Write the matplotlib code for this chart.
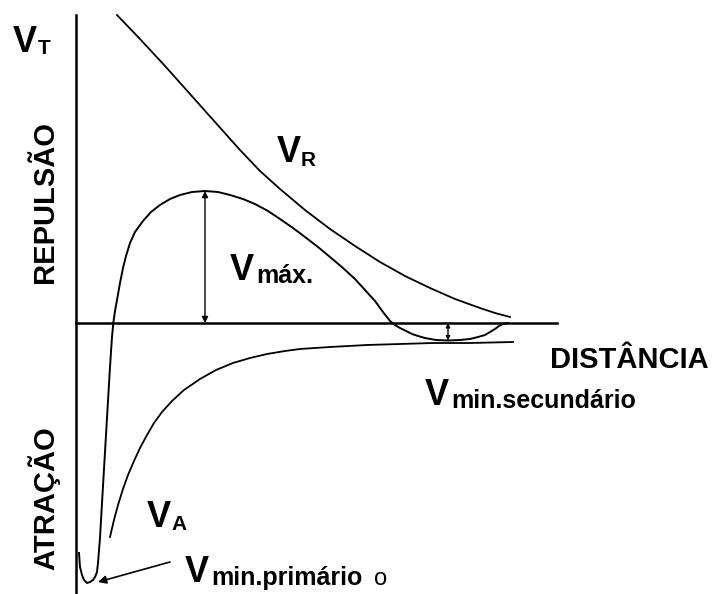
import matplotlib.pyplot as plt

plt.rcParams['font.family'] = ['Liberation Sans', 'DejaVu Sans']

# distance (x) and energy (height above the zero line)
vr_x = [117, 140, 165, 190, 215, 240, 260, 280, 305, 330, 355, 380, 405,
        430, 455, 480, 495, 510]
vr_y = [308, 284, 257, 229, 201, 173, 152, 134, 113, 94, 77, 61, 47, 35,
        24, 15, 10, 6]

va_x = [110, 114, 118, 123, 128, 134, 140, 147, 154, 162, 172, 184, 200,
        216, 233, 250, 267, 285, 300, 330, 367, 400, 433, 470, 513]
va_y = [-214, -197, -182, -166, -152, -138, -125, -112, -100, -89, -78,
        -67, -56, -47, -40, -35, -31, -28, -26, -24, -22, -21, -20, -20, -19]

vt_x = [79, 80, 82, 84, 87, 90, 93, 95, 97, 98, 100, 102, 104, 106, 108,
        110, 112, 113.3, 115, 117, 120, 123, 126, 130, 135, 143, 151, 160,
        170, 180, 192, 205, 218, 230, 243, 255, 268, 280, 293, 305, 318,
        330, 343, 355, 365, 375, 383, 390, 395, 400, 406, 412, 418, 425,
        436, 448, 460, 470, 478, 485, 490, 495, 499, 503, 508]
vt_y = [-230, -244, -252, -257, -260, -259, -257, -254, -249, -240, -215,
        -180, -146, -112, -78, -44, -14, 0, 12, 23, 40, 55, 67, 80, 91, 102,
        111, 118, 124, 128, 131, 132, 131, 128, 124, 119, 112, 104, 95, 86,
        76, 66, 55, 44, 33, 22, 11, 2, -2, -5, -8, -11, -13, -15, -17, -17.5,
        -17, -16, -14, -12, -9, -6, -3, -1, 0]

# barrier height and the two minima
x_max, v_max = 205, 132
x_sec, v_sec = 448, -17.5
x_prim, v_prim = 87, -260

fig = plt.figure(figsize=(7.12, 5.94), dpi=100)
ax = fig.add_axes([0, 0, 1, 1])
ax.set_xlim(0, 712)
ax.set_ylim(-271, 323)
ax.axis('off')

# axes of the diagram
ax.plot([76, 76], [308, -271], color='black', lw=1.8)
ax.plot([76, 557], [0, 0], color='black', lw=1.8)

ax.plot(vr_x, vr_y, color='black', lw=1.3)
ax.plot(va_x, va_y, color='black', lw=1.3)
ax.plot(vt_x, vt_y, color='black', lw=1.4, solid_joinstyle='round')

arr = dict(arrowstyle='<|-|>', color='black', lw=1.0, mutation_scale=9,
           shrinkA=0, shrinkB=0)
ax.annotate('', xy=(x_max, v_max), xytext=(x_max, 0), arrowprops=arr)
ax.annotate('', xy=(x_sec, v_sec), xytext=(x_sec, 0),
            arrowprops=dict(arr, mutation_scale=6))
ax.annotate('', xy=(x_prim + 11, v_prim + 1), xytext=(170, -239),
            arrowprops=dict(arrowstyle='-|>', color='black', lw=1.2,
                            mutation_scale=12, shrinkA=0, shrinkB=0))

big = dict(fontsize=26, fontweight='bold', va='baseline', ha='left')
sub_up = dict(fontsize=15, fontweight='bold', va='baseline', ha='left')
sub_lo = dict(fontsize=18, fontweight='bold', va='baseline', ha='left')

ax.text(13, 271, 'V', **big)
ax.text(38, 269, 'T', **sub_up)

ax.text(277, 161, 'V', **big)
ax.text(301, 157, 'R', **sub_up)

ax.text(230, 43, 'V', **big)
ax.text(256, 40, 'máx.', **sub_lo)

ax.text(147, -204, 'V', **big)
ax.text(171, -207, 'A', **sub_up)

ax.text(425, -82, 'V', **big)
ax.text(451, -85, 'min.secundário', **sub_lo)

ax.text(185, -259, 'V', **big)
ax.text(211, -262, 'min.primário', **sub_lo)
ax.text(374, -262, 'o', fontsize=17, va='baseline', ha='left')

ax.text(550, -45, 'DISTÂNCIA', fontsize=21, fontweight='bold',
        va='baseline', ha='left')

ax.text(45, 121, 'REPULSÃO', fontsize=21, fontweight='bold', rotation=90,
        ha='center', va='center')
ax.text(44, -175, 'ATRAÇÃO', fontsize=21, fontweight='bold', rotation=90,
        ha='center', va='center')

fig.savefig('out.png', dpi=100)
